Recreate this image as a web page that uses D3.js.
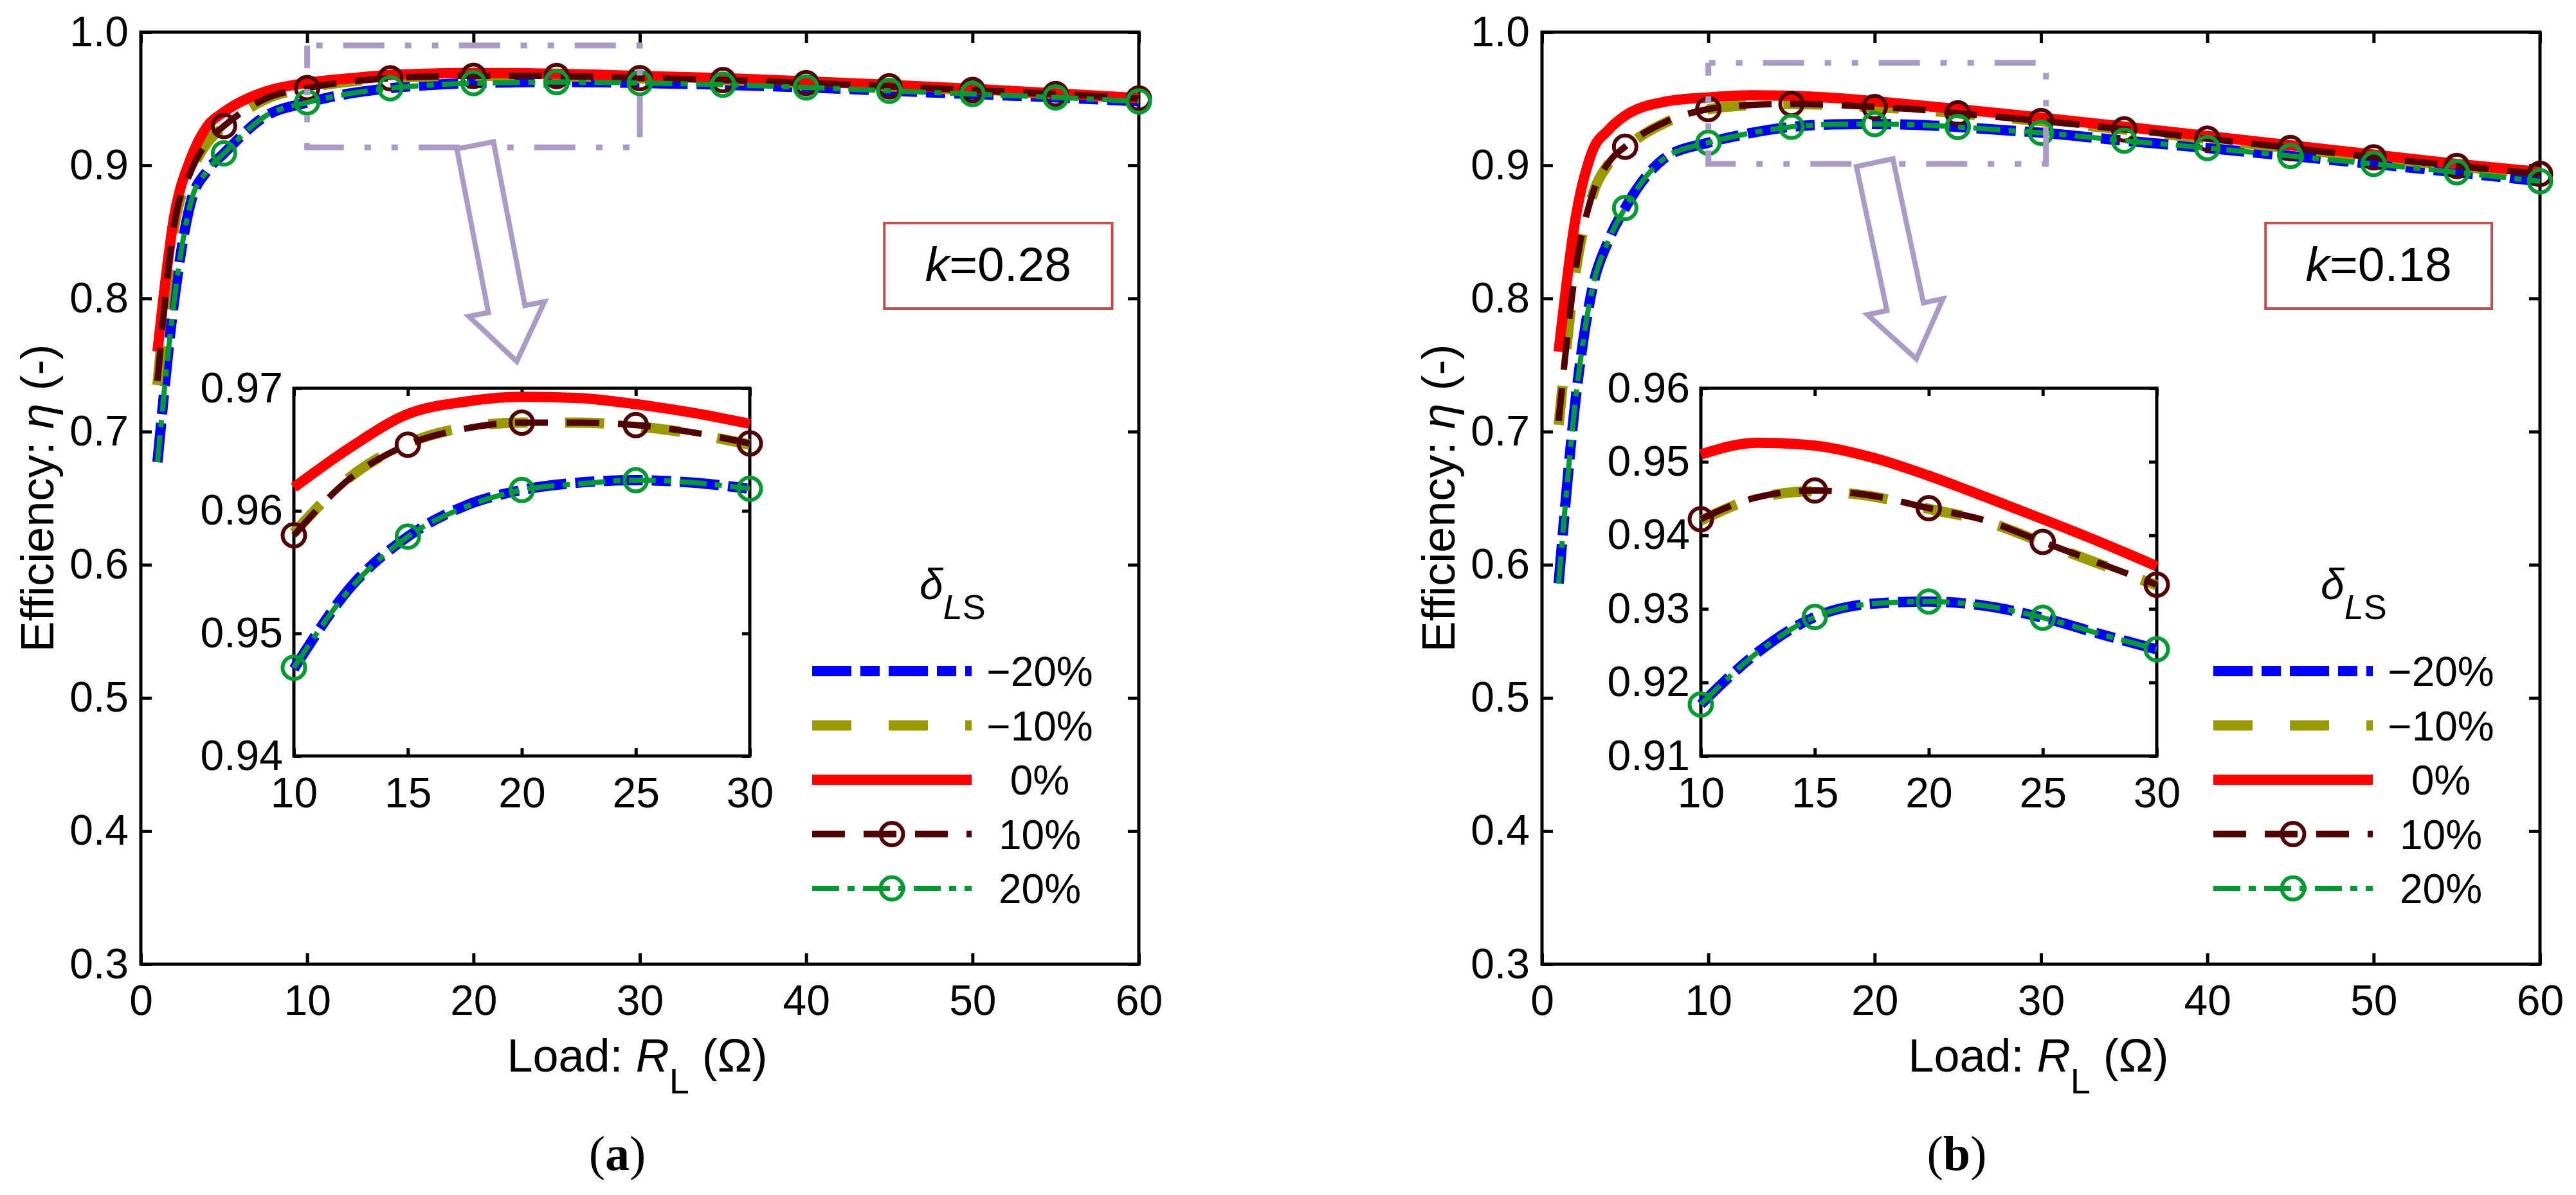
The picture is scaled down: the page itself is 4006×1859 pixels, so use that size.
<!DOCTYPE html>
<html>
<head>
<meta charset="utf-8">
<script src="https://cdn.jsdelivr.net/npm/d3@7"></script>
<style>
  body { margin: 0; background: #fff; }
</style>
</head>
<body>
<div id="chart"></div>
<script>
////////////////////////////  Data  ////////////////////////////
// load resistance (ohm) where the curves were read
const loadX = [1, 2, 3, 4, 5, 7.5, 10, 12.5, 15, 17.5, 20, 22.5, 25, 27.5, 30, 35, 40, 45, 50, 55, 60];
const markerX = [5, 10, 15, 20, 25, 30, 35, 40, 45, 50, 55, 60];
const seriesNames = ["\u221220%", "\u221210%", "0%", "10%", "20%"];

// (a) k = 0.28
const a_m20 = [0.677, 0.798, 0.872, 0.896, 0.909, 0.937, 0.9471, 0.9538, 0.9579, 0.9604, 0.9617, 0.9623, 0.9625, 0.9623, 0.9618, 0.9605, 0.9585, 0.956, 0.9535, 0.951, 0.948];
const a_m10 = [0.735, 0.853, 0.894, 0.917, 0.929, 0.9495, 0.9582, 0.9628, 0.9655, 0.9668, 0.9672, 0.9672, 0.9669, 0.9663, 0.9654, 0.9639, 0.9617, 0.9592, 0.9564, 0.9534, 0.9501];
const a_0 = [0.760, 0.861, 0.905, 0.9295, 0.940, 0.9554, 0.9619, 0.9652, 0.9679, 0.9689, 0.9693, 0.9692, 0.9687, 0.968, 0.9671, 0.9655, 0.963, 0.9604, 0.9574, 0.954, 0.9505];
const a_p10 = [0.738, 0.855, 0.895, 0.9176, 0.9295, 0.950, 0.958, 0.9627, 0.9654, 0.9667, 0.9672, 0.9672, 0.967, 0.9664, 0.9655, 0.964, 0.9618, 0.9593, 0.9565, 0.9535, 0.9502];
const a_p20 = [0.677, 0.798, 0.872, 0.896, 0.909, 0.937, 0.9472, 0.9537, 0.9579, 0.9603, 0.9617, 0.9622, 0.9625, 0.9623, 0.9618, 0.9605, 0.9585, 0.956, 0.9535, 0.951, 0.948];

// (b) k = 0.18
const b_m20 = [0.586, 0.722, 0.806, 0.8435, 0.868, 0.9065, 0.917, 0.9241, 0.9289, 0.9307, 0.931, 0.9304, 0.9288, 0.9266, 0.9245, 0.9185, 0.913, 0.907, 0.901, 0.8947, 0.888];
const b_m10 = [0.705, 0.818, 0.876, 0.901, 0.913, 0.9325, 0.942, 0.9451, 0.946, 0.9453, 0.9436, 0.9419, 0.939, 0.9361, 0.9332, 0.9268, 0.9198, 0.9128, 0.9058, 0.8993, 0.8933];
const b_0 = [0.760, 0.859, 0.9097, 0.9266, 0.9373, 0.948, 0.951, 0.9526, 0.9522, 0.9506, 0.9481, 0.9452, 0.9422, 0.9391, 0.9358, 0.929, 0.922, 0.915, 0.908, 0.901, 0.895];
const b_p10 = [0.708, 0.82, 0.877, 0.902, 0.914, 0.933, 0.9422, 0.9452, 0.9461, 0.9454, 0.9437, 0.942, 0.9391, 0.9362, 0.9333, 0.927, 0.92, 0.913, 0.906, 0.8995, 0.8935];
const b_p20 = [0.586, 0.722, 0.806, 0.8435, 0.868, 0.9065, 0.917, 0.9241, 0.9289, 0.9307, 0.931, 0.9304, 0.9288, 0.9266, 0.9245, 0.9185, 0.913, 0.907, 0.901, 0.8947, 0.888];

// ticks
const xTicks = [0, 10, 20, 30, 40, 50, 60];
const yTicks = [0.3, 0.4, 0.5, 0.6, 0.7, 0.8, 0.9, 1.0];
const insetXTicks = [10, 15, 20, 25, 30];
const insetYTicksA = [0.94, 0.95, 0.96, 0.97];
const insetYTicksB = [0.91, 0.92, 0.93, 0.94, 0.95, 0.96];

////////////////////////////  Styles  ////////////////////////////
const FONT = "'Liberation Sans', Arial, sans-serif";
const colors = ["#0000ff", "#999900", "#ff0000", "#500000", "#009933"];
const widths = [16, 16, 16, 10, 8];
const dashes = ["61,14,30,14", "61,58", null, "51,29", "42,13,11,13"];
const hasMarker = [false, false, false, true, true];
const LAVENDER = "#a99bc5";

const W = 4006, H = 1859;
const plotW = 1552, plotH = 1450, plotTop = 50;
const insetW = 709, insetH = 572, insetTop = 604;

const panels = [
  {
    left: 219, tag: "a", tagX: 960, k: "0.28",
    series: [a_m20, a_m10, a_0, a_p10, a_p20],
    insetLeft: 238, insetY: [0.94, 0.97], insetYTicks: insetYTicksA,
    box: { x: [10, 30], y: [0.9135, 0.990], phase: 124 },
    arrow: { from: [20.1, 0.915], to: [22.6, 0.7527] },
    kBox: { x: [44.7, 58.4], y: [0.8566, 0.7924] }
  },
  {
    left: 2398, tag: "b", tagX: 3043, k: "0.18",
    series: [b_m20, b_m10, b_0, b_p10, b_p20],
    insetLeft: 247, insetY: [0.91, 0.96], insetYTicks: insetYTicksB,
    box: { x: [10, 30.3], y: [0.901, 0.977], phase: 95 },
    arrow: { from: [20.0, 0.902], to: [22.5, 0.7546] },
    kBox: { x: [43.5, 57.1], y: [0.8566, 0.7924] }
  }
];

const svg = d3.select("#chart").append("svg")
  .attr("width", W).attr("height", H)
  .style("background", "#fff");

////////////////////////////  Helpers  ////////////////////////////
function styleAxis(sel, fontSize) {
  sel.select(".domain").remove();
  sel.attr("font-size", null).attr("font-family", null);
  sel.selectAll(".tick line").attr("stroke", "#000").attr("stroke-width", 5);
  sel.selectAll(".tick text")
    .attr("font-size", fontSize)
    .attr("font-family", FONT)
    .attr("fill", "#000");
}

function frameAxes(g, x, y, o) {
  const w = x.range()[1], h = y.range()[0];
  g.append("rect").attr("width", w).attr("height", h)
    .attr("fill", "#fff").attr("stroke", "#000").attr("stroke-width", 5);
  g.append("g").attr("transform", `translate(0,${h})`)
    .call(d3.axisBottom(x).tickValues(o.xTicks).tickFormat(d3.format("d"))
      .tickSize(-o.tick).tickSizeOuter(0).tickPadding(o.padX))
    .call(s => styleAxis(s, o.fontSize));
  g.append("g")
    .call(d3.axisLeft(y).tickValues(o.yTicks).tickFormat(d3.format(o.yFmt))
      .tickSize(-o.tick).tickSizeOuter(0).tickPadding(o.padY))
    .call(s => styleAxis(s, o.fontSize));
  g.append("g")
    .call(d3.axisTop(x).tickValues(o.xTicks).tickFormat("")
      .tickSize(-o.tick).tickSizeOuter(0))
    .call(s => styleAxis(s, o.fontSize));
  g.append("g").attr("transform", `translate(${w},0)`)
    .call(d3.axisRight(y).tickValues(o.yTicks).tickFormat("")
      .tickSize(-o.tick).tickSizeOuter(0))
    .call(s => styleAxis(s, o.fontSize));
}

function drawSeries(g, x, y, series, keep) {
  const line = d3.line()
    .curve(d3.curveMonotoneX)
    .x(d => x(d[0]))
    .y(d => y(d[1]));

  series.forEach((vals, i) => {
    const pts = loadX.map((lx, j) => [lx, vals[j]]).filter(d => keep(d[0]));
    g.append("path")
      .datum(pts)
      .attr("d", line)
      .attr("fill", "none")
      .attr("stroke", colors[i])
      .attr("stroke-width", widths[i])
      .attr("stroke-dasharray", dashes[i])
      .attr("stroke-linejoin", "round");
    if (hasMarker[i]) {
      g.selectAll(null)
        .data(pts.filter(d => markerX.includes(d[0])))
        .join("circle")
        .attr("cx", d => x(d[0]))
        .attr("cy", d => y(d[1]))
        .attr("r", 17.5)
        .attr("fill", "none")
        .attr("stroke", colors[i])
        .attr("stroke-width", 6);
    }
  });
}

function arrowPath(p0, p1, shaftHalf, headHalf, headLen) {
  const dx = p1[0] - p0[0], dy = p1[1] - p0[1];
  const len = Math.hypot(dx, dy);
  const ux = dx / len, uy = dy / len;
  const nx = -uy, ny = ux;
  const bx = p1[0] - ux * headLen, by = p1[1] - uy * headLen;
  const pts = [
    [p0[0] + nx * shaftHalf, p0[1] + ny * shaftHalf],
    [bx + nx * shaftHalf, by + ny * shaftHalf],
    [bx + nx * headHalf, by + ny * headHalf],
    p1,
    [bx - nx * headHalf, by - ny * headHalf],
    [bx - nx * shaftHalf, by - ny * shaftHalf],
    [p0[0] - nx * shaftHalf, p0[1] - ny * shaftHalf]
  ];
  return "M" + pts.map(p => p.join(",")).join("L") + "Z";
}

////////////////////////////  Panels  ////////////////////////////
panels.forEach(p => {
  const g = svg.append("g").attr("transform", `translate(${p.left},${plotTop})`);

  const x = d3.scaleLinear().domain([0, 60]).range([0, plotW]);
  const y = d3.scaleLinear().domain([0.3, 1.0]).range([plotH, 0]);

  frameAxes(g, x, y, {
    xTicks: xTicks, yTicks: yTicks, yFmt: ".1f",
    tick: 17, padX: 32, padY: 19, fontSize: 66
  });

  drawSeries(g, x, y, p.series, () => true);

  // zoom window
  g.append("rect")
    .attr("x", x(p.box.x[0]))
    .attr("y", y(p.box.y[1]))
    .attr("width", x(p.box.x[1]) - x(p.box.x[0]))
    .attr("height", y(p.box.y[0]) - y(p.box.y[1]))
    .attr("fill", "none")
    .attr("stroke", LAVENDER)
    .attr("stroke-width", 9)
    .attr("stroke-dasharray", "64,32,10,32,10,32")
    .attr("stroke-dashoffset", p.box.phase);

  // hollow arrow
  g.append("path")
    .attr("d", arrowPath(
      [x(p.arrow.from[0]), y(p.arrow.from[1])],
      [x(p.arrow.to[0]), y(p.arrow.to[1])], 29, 60, 83))
    .attr("fill", "#fff")
    .attr("stroke", LAVENDER)
    .attr("stroke-width", 8)
    .attr("stroke-linejoin", "miter");

  // inset
  const gi = g.append("g").attr("transform", `translate(${p.insetLeft},${insetTop - plotTop})`);
  const xi = d3.scaleLinear().domain([10, 30]).range([0, insetW]);
  const yi = d3.scaleLinear().domain(p.insetY).range([insetH, 0]);
  frameAxes(gi, xi, yi, {
    xTicks: insetXTicks, yTicks: p.insetYTicks, yFmt: ".2f",
    tick: 12, padX: 33, padY: 17, fontSize: 66
  });
  drawSeries(gi, xi, yi, p.series, v => v >= 10 && v <= 30);

  // k box
  g.append("rect")
    .attr("x", x(p.kBox.x[0]))
    .attr("y", y(p.kBox.y[0]))
    .attr("width", x(p.kBox.x[1]) - x(p.kBox.x[0]))
    .attr("height", y(p.kBox.y[1]) - y(p.kBox.y[0]))
    .attr("fill", "#fff")
    .attr("stroke", "#c0504d")
    .attr("stroke-width", 4);
  const kt = g.append("text")
    .attr("x", (x(p.kBox.x[0]) + x(p.kBox.x[1])) / 2)
    .attr("y", y(p.kBox.y[0]) + 90)
    .attr("text-anchor", "middle")
    .attr("font-family", FONT)
    .attr("font-size", 75);
  kt.append("tspan").attr("font-style", "italic").text("k");
  kt.append("tspan").text("=" + p.k);

  // legend
  const lg = g.append("g");
  const lx0 = 1044, lx1 = 1292, row0 = 994, rowStep = 84.5;
  const title = lg.append("text")
    .attr("x", 1211).attr("y", 882)
    .attr("font-family", FONT).attr("font-size", 66);
  title.append("tspan").attr("font-style", "italic").text("\u03b4");
  title.append("tspan").attr("dy", 31).attr("font-size", 54).attr("font-style", "italic").text("L");
  title.append("tspan").attr("font-size", 54).text("S");

  seriesNames.forEach((name, i) => {
    const ry = row0 + i * rowStep;
    lg.append("line")
      .attr("x1", lx0).attr("x2", lx1)
      .attr("y1", ry).attr("y2", ry)
      .attr("stroke", colors[i])
      .attr("stroke-width", widths[i])
      .attr("stroke-dasharray", dashes[i]);
    if (hasMarker[i]) {
      lg.append("circle")
        .attr("cx", (lx0 + lx1) / 2).attr("cy", ry).attr("r", 17.5)
        .attr("fill", "none").attr("stroke", colors[i]).attr("stroke-width", 6);
    }
    lg.append("text")
      .attr("x", 1398).attr("y", ry + 23)
      .attr("text-anchor", "middle")
      .attr("font-family", FONT).attr("font-size", 64)
      .text(name);
  });

  // axis titles
  const yl = g.append("text")
    .attr("transform", `translate(${83 - 219},${plotH / 2}) rotate(-90)`)
    .attr("text-anchor", "middle")
    .attr("font-family", FONT).attr("font-size", 72);
  yl.append("tspan").text("Efficiency: ");
  yl.append("tspan").attr("font-style", "italic").text("\u03b7");
  yl.append("tspan").text(" (-)");

  const xl = g.append("text")
    .attr("x", plotW / 2 - 4).attr("y", 1617)
    .attr("text-anchor", "middle")
    .attr("font-family", FONT).attr("font-size", 72);
  xl.append("tspan").text("Load: ");
  xl.append("tspan").attr("font-style", "italic").text("R");
  xl.append("tspan").attr("dy", 34).attr("font-size", 56).text("L");
  xl.append("tspan").attr("dy", -34).text(" (\u03a9)");

  // panel tag
  const tg = svg.append("text")
    .attr("x", p.tagX).attr("y", 1820)
    .attr("text-anchor", "middle")
    .attr("font-family", "'Liberation Serif', 'Times New Roman', serif")
    .attr("font-size", 76);
  tg.append("tspan").text("(");
  tg.append("tspan").attr("font-weight", "bold").text(p.tag);
  tg.append("tspan").text(")");
});
</script>
</body>
</html>
